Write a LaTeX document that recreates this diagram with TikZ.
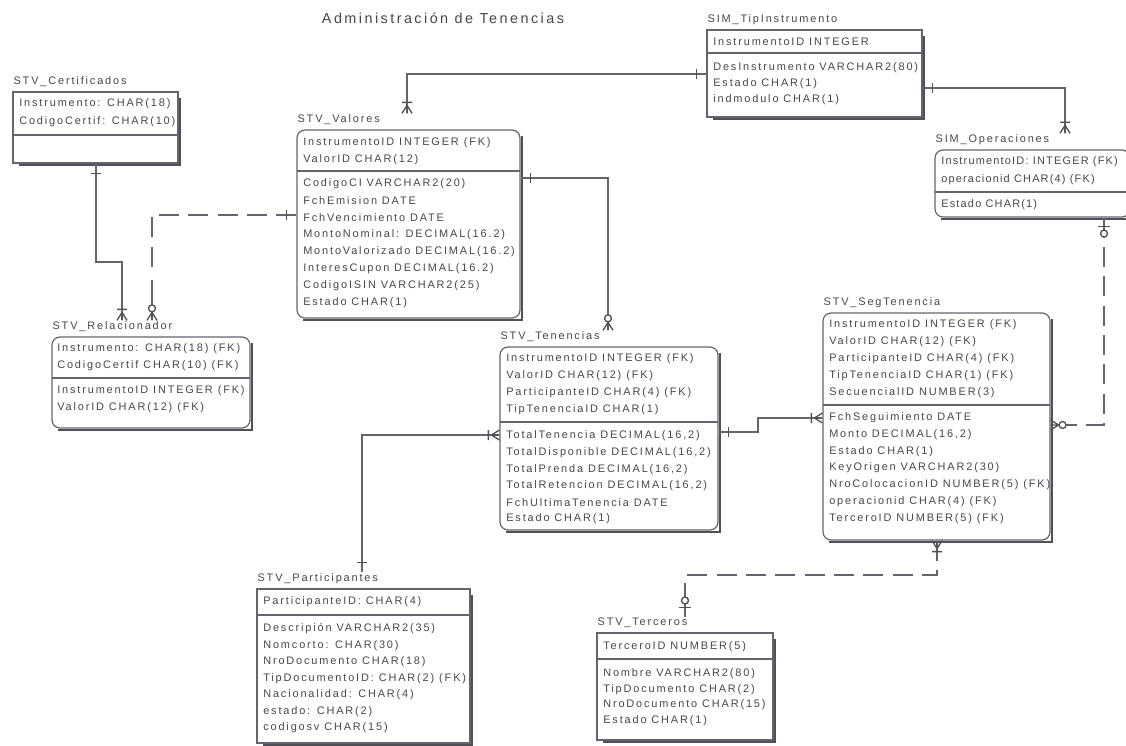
\documentclass[tikz,border=0pt]{standalone}
\usepackage{fontspec}
\setmainfont{Liberation Sans}
\newfontfamily\erfont[LetterSpace=17]{Liberation Sans}
\newfontfamily\erfonttight[LetterSpace=11]{Liberation Sans}
\usetikzlibrary{fit}

\definecolor{ink}{RGB}{70,70,78}
\definecolor{edge}{RGB}{100,100,110}
\definecolor{shade}{RGB}{80,80,86}

\tikzset{
  field/.style={anchor=west, inner sep=0pt, text=ink, font=\erfont\fontsize{8.2}{9}\selectfont},
  tname/.style={anchor=west, inner sep=1pt, text=ink, font=\erfont\fontsize{8.2}{9}\selectfont},
  ent/.style={draw=edge, line width=0.9pt, inner sep=0pt, fill=white},
  dep/.style={ent, rounded corners=6pt},
  sep/.style={draw=edge, line width=1.2pt},
  shadow/.style={draw=shade, line width=2.2pt},
  conn/.style={draw=edge, line width=0.8pt},
  sym/.style={draw=edge!80!black, line width=1pt},
  opt/.style={conn, dash pattern=on 15pt off 7pt},
  pics/many/.style={code={\draw[sym] (0,-5)--(8,0) (0,0)--(8,0) (0,5)--(8,0) (11,-5)--(11,5);}},
  pics/zmany/.style={code={\draw[sym] (0,-5)--(8,0) (0,0)--(8,0) (0,5)--(8,0);
      \draw[sym, fill=white] (12,0) circle[radius=2.6pt];}},
  pics/one/.style={code={\draw[sym] (10,-5)--(10,5);}},
  pics/zone/.style={code={\draw[sym] (9,-6)--(9,6); \draw[sym, fill=white] (16,0) circle[radius=2.6pt];}},
}

% entity box: id, title, x1, y1, x2, y2, divider y, box style
\newcommand\entity[8]{%
  \draw[shadow] (#5+2,#4+6) -- (#5+2,#6+2) -- (#3+6,#6+2);
  \node[#8, fit={(#3,#4) (#5,#6)}] (#1) {};
  \draw[sep] (#3,#7) -- (#5,#7);
  \node[tname] (#1T) at (#3-1,#4-10) {#2};
}
% column list: name prefix, x, first y, row step, rows
\newcommand\fields[5]{%
  \foreach \t [count=\i] in {#5} {\node[field] (#1-\i) at (#2,{#3+#4*(\i-1)}) {\t};}
}

\begin{document}
\begin{tikzpicture}[x=0.75pt, y=-0.75pt]
\useasboundingbox (0,0) rectangle (1126,745);
\fill[white] (0,0) rectangle (1126,745);

\node[text=ink, font=\erfont\fontsize{10.8}{12}\selectfont] (title) at (443,18) {Administración de Tenencias};

% ---- entities ----
\entity{cer}{STV\_Certificados}{13}{92}{178}{163}{135}{ent}
\fields{cerk}{19}{104}{18}{Instrumento: CHAR(18), CodigoCertif: CHAR(10)}

\entity{val}{STV\_Valores}{297}{130}{520}{318}{171}{dep}
\fields{valk}{303}{143}{17}{InstrumentoID INTEGER (FK), ValorID CHAR(12)}
\fields{valn}{303}{184}{16.9}{CodigoCI VARCHAR2(20), FchEmision DATE, FchVencimiento DATE,
  {MontoNominal: DECIMAL(16.2)}, {MontoValorizado DECIMAL(16.2)}, {InteresCupon DECIMAL(16.2)},
  CodigoISIN VARCHAR2(25), Estado CHAR(1)}

\entity{tip}{SIM\_TipInstrumento}{707}{30}{922}{117}{53}{ent}
\fields{tipk}{713}{42}{17}{InstrumentoID INTEGER}
\fields{tipn}{713}{68}{16}{DesInstrumento VARCHAR2(80), Estado CHAR(1), indmodulo CHAR(1)}

\entity{ope}{SIM\_Operaciones}{935}{150}{1130}{217}{192}{dep}
\begin{scope}[field/.append style={font=\erfonttight\fontsize{8.2}{9}\selectfont}]
\fields{opek}{941}{162}{18}{InstrumentoID: INTEGER (FK), operacionid CHAR(4) (FK)}
\fields{open}{941}{205}{17}{Estado CHAR(1)}
\end{scope}

\entity{rel}{STV\_Relacionador}{52}{337}{250}{428}{378}{dep}
\fields{relk}{57}{349}{17}{Instrumento: CHAR(18) (FK), CodigoCertif CHAR(10) (FK)}
\fields{reln}{57}{391}{17}{InstrumentoID INTEGER (FK), ValorID CHAR(12) (FK)}

\entity{ten}{STV\_Tenencias}{500}{347}{718}{530}{422}{dep}
\fields{tenk}{506}{359}{17}{InstrumentoID INTEGER (FK), ValorID CHAR(12) (FK),
  ParticipanteID CHAR(4) (FK), TipTenenciaID CHAR(1)}
\fields{tenn}{506}{436}{16.6}{{TotalTenencia DECIMAL(16,2)}, {TotalDisponible DECIMAL(16,2)},
  {TotalPrenda DECIMAL(16,2)}, {TotalRetencion DECIMAL(16,2)}, FchUltimaTenencia DATE, Estado CHAR(1)}

\entity{seg}{STV\_SegTenencia}{823}{313}{1050}{540}{405}{dep}
\fields{segk}{829}{325}{16.8}{InstrumentoID INTEGER (FK), ValorID CHAR(12) (FK),
  ParticipanteID CHAR(4) (FK), TipTenenciaID CHAR(1) (FK), SecuencialID NUMBER(3)}
\fields{segn}{829}{418}{16.7}{FchSeguimiento DATE, {Monto DECIMAL(16,2)}, Estado CHAR(1),
  KeyOrigen VARCHAR2(30), NroColocacionID NUMBER(5) (FK), operacionid CHAR(4) (FK),
  TerceroID NUMBER(5) (FK)}

\entity{par}{STV\_Participantes}{257}{589}{470}{743}{615}{ent}
\fields{park}{263}{602}{17}{ParticipanteID: CHAR(4)}
\fields{parn}{263}{629}{16.5}{Descripión VARCHAR2(35), Nomcorto: CHAR(30), NroDocumento CHAR(18),
  TipDocumentoID: CHAR(2) (FK), Nacionalidad: CHAR(4), estado: CHAR(2), codigosv CHAR(15)}

\entity{ter}{STV\_Terceros}{597}{633}{773}{740}{659}{ent}
\fields{terk}{603}{647}{17}{TerceroID NUMBER(5)}
\fields{tern}{603}{674}{15.5}{Nombre VARCHAR2(80), TipDocumento CHAR(2), NroDocumento CHAR(15), Estado CHAR(1)}

% ---- relationships ----
\coordinate (a1) at (407,74);
\draw[conn] (tip.west |- a1) -- (a1) -- (valT.north -| a1);
\pic[rotate=180] at (tip.west |- a1) {one};
\pic[rotate=90] at (valT.north -| a1) {many};

\coordinate (a2) at (1065,88);
\draw[conn] (tip.east |- a2) -- (a2) -- (opeT.north -| a2);
\pic at (tip.east |- a2) {one};
\pic[rotate=90] at (opeT.north -| a2) {many};

\coordinate (a3) at (96,262);
\coordinate (b3) at (122,262);
\draw[conn] (cer.south -| a3) -- (a3) -- (b3) -- (relT.north -| b3);
\pic[rotate=-90] at (cer.south -| a3) {one};
\pic[rotate=90] at (relT.north -| b3) {many};

\coordinate (a4) at (152,215);
\coordinate (b4) at (152,272);
\coordinate (c4) at (152,280);
\draw[opt] (val.west |- a4) -- (a4) -- (b4);
\draw[conn] (c4) -- (relT.north -| c4);
\pic[rotate=180] at (val.west |- a4) {one};
\pic[rotate=90] at (relT.north -| c4) {zmany};

\coordinate (a5) at (608,178);
\draw[conn] (val.east |- a5) -- (a5) -- (tenT.north -| a5);
\pic at (val.east |- a5) {one};
\pic[rotate=90] at (tenT.north -| a5) {zmany};

\coordinate (a6) at (362,435);
\draw[conn] (parT.north -| a6) -- (a6) -- (ten.west |- a6);
\pic[rotate=90] at (parT.north -| a6) {one};
\pic[rotate=180] at (ten.west |- a6) {many};

\coordinate (a7) at (758,432);
\coordinate (b7) at (758,418);
\draw[conn] (ten.east |- a7) -- (a7) -- (b7) -- (seg.west |- b7);
\pic at (ten.east |- a7) {one};
\pic[rotate=180] at (seg.west |- b7) {many};

\coordinate (a8) at (1104,425);
\draw[opt] (ope.south -| a8) -- (a8) -- (seg.east |- a8);
\pic[rotate=-90] at (ope.south -| a8) {zone};
\pic at (seg.east |- a8) {zmany};

\coordinate (a9) at (937,575);
\coordinate (b9) at (685,575);
\coordinate (c9) at (685,583);
\draw[opt] (seg.south -| a9) -- (a9) -- (b9);
\draw[conn] (c9) -- (terT.north -| c9);
\pic[rotate=-90] at (seg.south -| a9) {many};
\pic[rotate=90] at (terT.north -| c9) {zone};
\end{tikzpicture}
\end{document}
